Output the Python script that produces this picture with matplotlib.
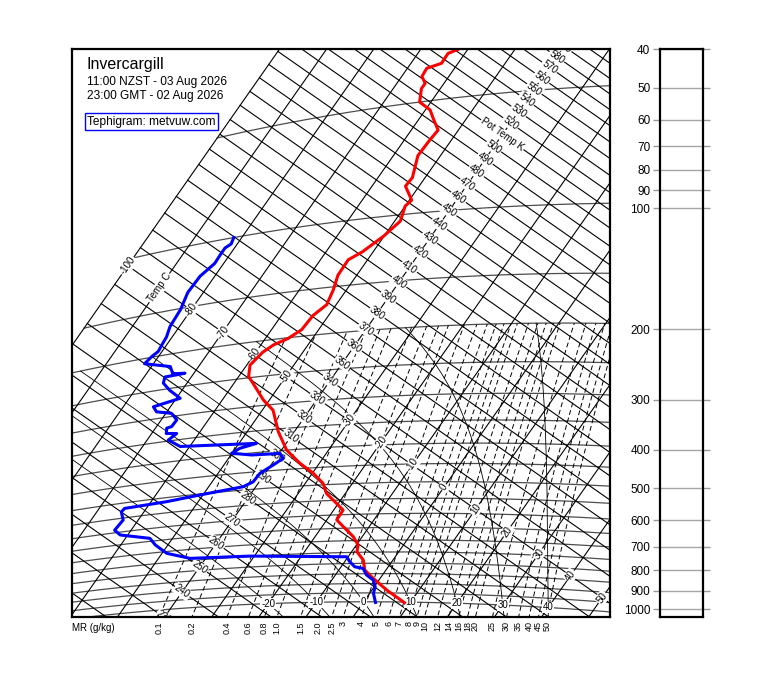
import numpy as np
import matplotlib
matplotlib.use('Agg')
import matplotlib.pyplot as plt

plt.rcParams['font.family'] = ['Liberation Sans', 'DejaVu Sans']

#--------------------------------------------------Sounding data-------------------------------------------------------#
# temperature trace (hPa, C)
temp_p = [1004, 934, 873, 832, 785, 747, 719, 684, 644, 618, 584, 549, 527, 496, 465, 436, 400, 356, 311, 290,
          260, 248, 231, 215, 207, 201, 192, 177, 167, 153, 140, 128, 123, 113, 104, 95, 92, 84, 80, 70,
          64, 60.5, 56, 53, 50, 46, 44.6, 42.6, 40.6, 39.8, 37.6, 36.9]
temp_t = [8.8, 3.1, -1.5, -4.5, -6.3, -8.9, -9.6, -11.9, -15.5, -17.9, -18.0, -21.6, -24.0, -26.2, -29.8, -34.1,
          -38.9, -43.4, -47.7, -51.3, -55.9, -57.9, -59.3, -58.5, -57.3, -55.2, -53.6, -53.3, -52.0, -52.8,
          -54.0, -54.1, -52.3, -50.1, -48.8, -50.0, -49.5, -52.9, -52.7, -54.8, -54.6, -54.3, -57.1, -59.0,
          -62.4, -64.0, -64.0, -65.7, -65.9, -63.5, -63.6, -62.0]

# dewpoint trace (hPa, C)
dewp_p = [1004, 952, 917, 882, 856, 824, 816, 792, 769, 749, 740, 708, 667, 638, 611, 590, 557, 528, 518, 513,
          503, 490, 478, 455, 435, 420, 407, 405, 396, 386, 378, 366, 348, 336, 333, 322, 320, 308, 294, 287,
          277, 272, 269, 253, 240, 231, 230, 228, 217, 207, 199, 194, 187, 178, 167, 151, 136, 124, 116, 110,
          106, 104, 100]
dewp_t = [2.6, 0.8, 0.2, -1.2, -3.4, -5.1, -7.1, -8.9, -10.3, -30.9, -43.3, -49.0, -52.7, -54.8, -61.6, -63.5,
          -63.2, -64.8, -64.6, -56.7, -50.6, -42.7, -41.3, -41.1, -39.5, -38.4, -39.8, -45.6, -50.1, -49.1,
          -46.3, -62.0, -65.5, -64.7, -66.9, -67.6, -66.8, -66.7, -68.8, -72.2, -73.6, -70.8, -69.2, -72.6,
          -75.0, -75.6, -71.9, -74.4, -76.0, -81.9, -81.4, -80.8, -81.0, -81.2, -82.0, -82.3, -83.3, -83.1,
          -81.9, -82.0, -82.0, -81.3, -81.7]

#--------------------------------------------------Diagram lines-------------------------------------------------------#
isobars = [1000, 950, 900, 850, 800, 750, 700, 650, 600, 550, 500, 450, 400, 350, 300, 250, 200, 150, 100, 50]
isotherms = list(range(-100, 70, 10))
adiabats = list(range(200, 710, 10))
wet_adiabats = [-20, -10, 0, 10, 20, 30, 40]
mix_ratios = [0.1, 0.2, 0.4, 0.6, 0.8, 1.0, 1.5, 2.0, 2.5, 3, 4, 5, 6, 7, 8, 9, 10, 12, 14, 16, 18, 20,
              25, 30, 35, 40, 45, 50]
mix_labels = ['0.1', '0.2', '0.4', '0.6', '0.8', '1.0', '1.5', '2.0', '2.5', '3', '4', '5', '6', '7', '8', '9',
              '10', '12', '14', '16', '18', '20', '25', '30', '35', '40', '45', '50']
temp_lab = [-100, -90, -80, -70, -60, -50, -30, -20, -10, 0, 10, 20, 30, 40, 50]
theta_lab = list(range(230, 600, 10))
wet_lab = [-20, -10, 0, 10, 20, 30, 40]
p_ticks = [40, 50, 60, 70, 80, 90, 100, 200, 300, 400, 500, 600, 700, 800, 900, 1000]

#--------------------------------------------------Tephigram projection------------------------------------------------#
ANG = np.radians(35.0)
ST, SK = 3.86, 740.0        # px per degC, px per unit ln(theta)
X0, Y0 = 317.5, 398.6       # where T=-40C, theta=330K sits

def teph(t, th):
    a = ST*(np.asarray(t, float) + 40.0)
    b = SK*np.log(np.asarray(th, float)/330.0)
    return X0 + a*np.cos(ANG) + b*np.sin(ANG), Y0 + a*np.sin(ANG) - b*np.cos(ANG)

def teph_p(t, p):
    t = np.asarray(t, float)
    th = (t + 273.15)*(1000.0/np.asarray(p, float))**0.2857
    return teph(t, th)

def esat(t):
    return 6.112*np.exp(17.67*t/(t + 243.5))

def dtdp(T, p):
    e = esat(T - 273.15)
    rs = 0.622*e/(p - e)
    return (287.04*T + 2.5e6*rs)/(p*(1004.0 + 2.5e6**2*rs*0.622/(287.04*T**2)))

def moist(tw, p_end, n=500):
    ps = np.linspace(1000.0, p_end, n)
    T = tw + 273.15
    out = [T]
    for i in range(1, n):
        dp = ps[i] - ps[i-1]
        k1 = dtdp(T, ps[i-1])
        k2 = dtdp(T + k1*dp, ps[i])
        T = T + 0.5*(k1 + k2)*dp
        out.append(T)
    return ps, np.array(out) - 273.15

#--------------------------------------------------Figure--------------------------------------------------------------#
W, H = 760, 690
fig = plt.figure(figsize=(7.6, 6.9), dpi=100)
L, R, T_, B = 72, 610, 49, 617
ax = fig.add_axes([L/W, (H-B)/H, (R-L)/W, (B-T_)/H])
ax.set_xlim(L, R)
ax.set_ylim(B, T_)
ax.set_xticks([])
ax.set_yticks([])
for s in ax.spines.values():
    s.set_linewidth(1.6)
    s.set_zorder(6)

gl = dict(color='black', lw=0.8)

# isobars
tt = np.linspace(-100, 70, 300)
for p in isobars:
    x, y = teph_p(tt, p)
    ax.plot(x, y, color='0.3', lw=0.9)

# isotherms
thth = np.linspace(120, 1000, 300)
for t in isotherms:
    x, y = teph(t, thth)
    ax.plot(x, y, **gl)

# dry adiabats
for th in adiabats:
    x, y = teph(tt, th)
    ax.plot(x, y, **gl)

# saturated adiabats
for tw in wet_adiabats:
    ps, ts = moist(tw, 200.0)
    x, y = teph_p(ts, ps)
    ax.plot(x, y, color='black', lw=0.6)
    ps, ts = moist(tw, 1100.0, 60)
    x, y = teph_p(ts, ps)
    ax.plot(x, y, color='black', lw=0.6)

# mixing ratio lines
pm = np.linspace(1120, 200, 200)
for r, lab in zip(mix_ratios, mix_labels):
    e = (r/1000.0)*pm/(0.622 + r/1000.0)
    le = np.log(e/6.112)
    tm = 243.5*le/(17.67 - le)
    x, y = teph_p(tm, pm)
    ax.plot(x, y, color='black', lw=0.7, ls=(0, (5, 3)))
    xb = np.interp(B, y[::-1], x[::-1])
    ax.text(xb, B + 4, lab, rotation=90, ha='center', va='top', fontsize=6.5, clip_on=False)
ax.text(L, B + 11, 'MR (g/kg)', ha='left', va='center', fontsize=7, clip_on=False)

# labels on the grid
wb = dict(facecolor='white', edgecolor='none', pad=0.6)
for t in temp_lab:
    x, y = teph(t, 330)
    txt = 'Temp C' if t == -90 else str(t)
    ax.text(x, y, txt, rotation=55, ha='center', va='center', fontsize=7,
            rotation_mode='anchor', bbox=wb, clip_on=True)
for th in theta_lab:
    x, y = teph(-40, th)
    txt = 'Pot Temp K' if th == 510 else str(th)
    ax.text(x, y, txt, rotation=-35, ha='center', va='center', fontsize=7,
            rotation_mode='anchor', bbox=wb, clip_on=True)
for t in wet_lab:
    x, y = teph_p(t, 1000)
    ax.text(x, y, str(t), ha='center', va='center', fontsize=7, bbox=wb, clip_on=True)

# sounding, above the labels
x, y = teph_p(temp_t, temp_p)
ax.plot(x, y, color='#ff0000', lw=2.2, solid_joinstyle='round', zorder=5)
x, y = teph_p(dewp_t, dewp_p)
ax.plot(x, y, color='#0000ff', lw=2.2, solid_joinstyle='round', zorder=5)

# header
ax.text(87, 68.5, 'Invercargill', fontsize=11.5, va='baseline')
ax.text(87, 85, '11:00 NZST - 03 Aug 2026', fontsize=8.6, va='baseline')
ax.text(87, 98.5, '23:00 GMT - 02 Aug 2026', fontsize=8.6, va='baseline')
ax.text(87, 124.5, 'Tephigram: metvuw.com', fontsize=8.6, va='baseline',
        bbox=dict(boxstyle='square,pad=0.2', facecolor='white', edgecolor='blue', lw=1))

#--------------------------------------------------Side pressure panel-------------------------------------------------#
PL, PR = 660, 703
ax2 = fig.add_axes([PL/W, (H-B)/H, (PR-PL)/W, (B-T_)/H])
ax2.set_yscale('log')
p_top = 40.0
p_bot = 40.0*np.exp((B - T_)/((609 - T_)/np.log(1000/40.0)))
ax2.set_ylim(p_bot, p_top)
ax2.set_xticks([])
ax2.set_yticks(p_ticks)
ax2.set_yticklabels([str(p) for p in p_ticks])
ax2.yaxis.set_minor_locator(matplotlib.ticker.NullLocator())
ax2.tick_params(axis='y', direction='out', length=5, width=1, color='0.6', labelsize=8.5, right=True, pad=2)
for tk in ax2.yaxis.get_major_ticks():
    tk.tick2line.set_color('black')
ax2.grid(axis='y', color='0.65', lw=1)
for s in ax2.spines.values():
    s.set_linewidth(1.6)

fig.savefig('out.png', dpi=100)
